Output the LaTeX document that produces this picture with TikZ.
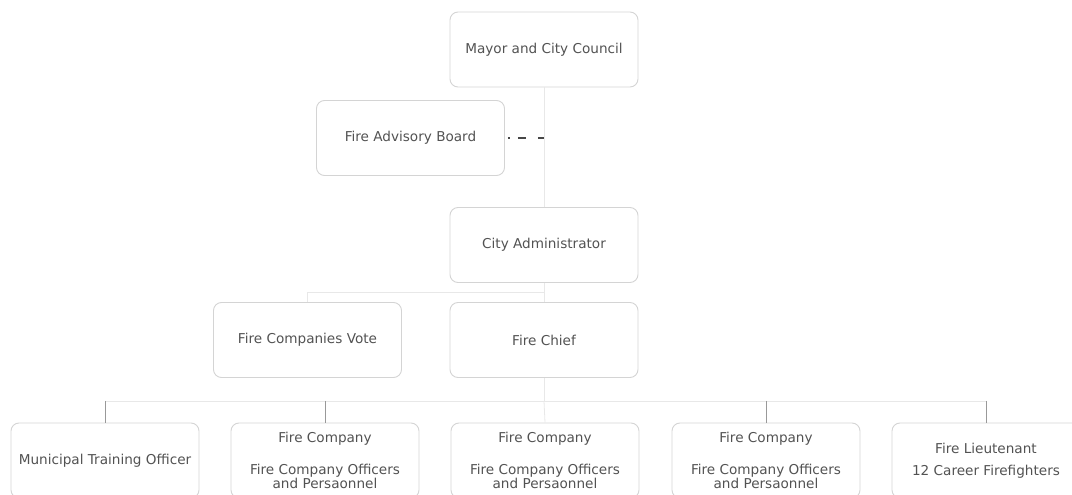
\documentclass[tikz,border=0pt]{standalone}
\usepackage{fontspec}
\setmainfont{DejaVu Sans}
\usepackage{tikz}
\usetikzlibrary{calc}

\begin{document}
\begin{tikzpicture}[x=1pt,y=-1pt,
  office/.style={draw=black!17, line width=0.9pt, rounded corners=8pt,
    minimum width=188pt, minimum height=75pt, inner sep=0pt, align=center,
    text=black!68, font=\fontsize{13.6}{11.5}\selectfont},
  tie/.style={draw=black!9, line width=0.8pt},
  drop/.style={draw=black!40, line width=0.8pt},
  advice/.style={draw=black!72, line width=1.6pt,
    dash pattern=on 2pt off 8pt on 8pt off 12pt on 8pt off 3pt, dash phase=38pt}]
  % page frame, pixel-like units
  \useasboundingbox (0,0) rectangle (1072,495);

  % council, board and administrator
  \node[office] (mayor) at (544,49.5) {Mayor and City Council};
  \node[office] (advisory) at (410.5,138) {Fire Advisory Board};
  \node[office] (admin) at (544,245) {City Administrator};

  % second level
  \node[office] (vote) at (307.5,340) {Fire Companies Vote};
  \node[office] (chief) at (544,340) {Fire Chief};

  % bottom row, cut by the page edge
  \node[office] (training) at (105,460.5) {Municipal Training Officer};
  \node[office] (companyA) at (325,460.5) {Fire Company\\[17pt]Fire Company Officers\\and Persaonnel};
  \node[office] (companyB) at (545,460.5) {Fire Company\\[17pt]Fire Company Officers\\and Persaonnel};
  \node[office] (companyC) at (766,460.5) {Fire Company\\[17pt]Fire Company Officers\\and Persaonnel};
  \node[office] (lieutenant) at (986,460.5) {Fire Lieutenant\\[11pt]12 Career Firefighters};

  % chain of command
  \draw[tie] (mayor.south) -- (admin.north);
  \draw[advice] (advisory.east) -- (advisory.east -| mayor.south);
  \draw[tie] (admin.south) -- (chief.north);
  \coordinate (fork) at ($(admin.south)!0.5!(chief.north)$);
  \draw[tie] (fork) -| (vote.north);
  \coordinate (bus) at ($(chief.south)+(0,23)$);
  \draw[tie] (chief.south) -- (bus);
  \draw[tie] (bus -| training.north) -- (bus -| lieutenant.north);
  \draw[tie] (bus) -- (companyB.north);
  \foreach \n in {training,companyA,companyC,lieutenant}
    \draw[drop] (bus -| \n.north) -- (\n.north);
\end{tikzpicture}
\end{document}
